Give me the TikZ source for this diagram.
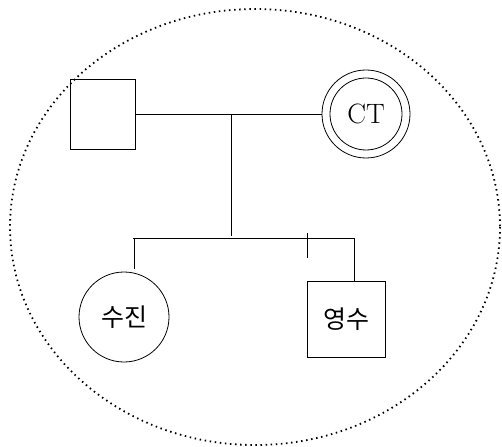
\documentclass[tikz,border=0pt]{standalone}
\usepackage{fontspec}
\newfontfamily\kor{Noto Sans CJK KR}
\begin{document}
\begin{tikzpicture}[x=1pt,y=-1pt,line width=0.8pt,
  male/.style={draw,rectangle,minimum width=#1,minimum height=70pt,inner sep=0pt},
  female/.style={draw,circle,minimum size=#1,inner sep=0pt},
  kid/.style={font=\kor\fontsize{25}{27}\selectfont}]
\useasboundingbox (0,0) rectangle (502,446);

% household boundary
\draw[line width=1.8pt,dash pattern=on 1.5pt off 3.6pt] (255,227) ellipse [x radius=245, y radius=218];

% parents
\node[male=65pt] (father) at (102.5,114) {};
\node[female=88pt] (ctout) at (366,114) {};
\node[female=72pt,font=\fontsize{28}{30}\selectfont] (ct) at (366,114) {CT};

% children
\node[female=90pt,kid] (sujin) at (124,317) {수진};
\node[male=78pt,minimum height=76pt,kid] (youngsu) at (346,319) {영수};

\coordinate (mid) at (231,114);
\coordinate (sibl) at (133,238);
\coordinate (sibr) at (354,238);
\coordinate (tick) at (307,233);

\draw (father.east) -- (ctout.west);
\draw (mid) -- (231,236);
\draw (sibl) -- (sibr);
\draw (134,238) -- (134,269);
\draw (tick) -- (307,258);
\draw (sibr) -- (youngsu.north -| sibr);
\end{tikzpicture}
\end{document}
